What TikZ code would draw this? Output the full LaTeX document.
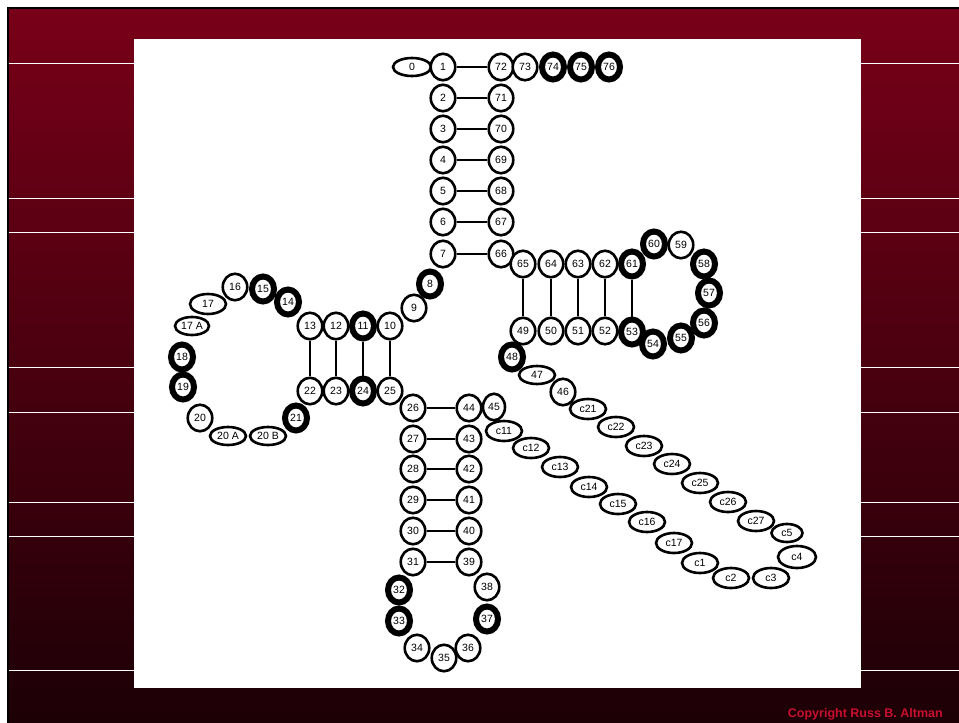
\documentclass[tikz,border=0pt]{standalone}
\usepackage{fontspec}
\setmainfont{Liberation Sans}
\usetikzlibrary{shapes.geometric}
\definecolor{bgtop}{RGB}{120,0,24}
\definecolor{bgmid}{RGB}{88,0,18}
\definecolor{bgbot}{RGB}{28,0,6}
\definecolor{copyred}{RGB}{200,16,46}
\begin{document}
\begin{tikzpicture}[x=1pt,y=-1pt,
  nd/.style={ellipse, draw=black, fill=white, line width=2.6pt, minimum width=24.5pt, minimum height=26.5pt, inner sep=0pt, font=\fontsize{10.5}{10.5}\selectfont},
  thk/.style={nd, line width=6pt, minimum width=22pt, minimum height=25pt},
  ov/.style={nd, minimum width=36pt, minimum height=20pt},
  pairline/.style={line width=2pt, black},
  stripe/.style={white, line width=1pt}]
\useasboundingbox (0,0) rectangle (959,723);
\fill[white] (0,0) rectangle (959,723);
\fill[black] (7,7) rectangle (959,723);
\shade[top color=bgtop, middle color=bgmid, bottom color=bgbot] (9.3,9.3) rectangle (959,723);
\foreach \yy in {63,198,232,367,412,502,536,670} \draw[stripe] (9.3,\yy) -- (959,\yy);
\fill[white] (134,39) rectangle (860.5,688);
\node[anchor=base east, text=copyred, font=\bfseries\fontsize{12.5}{12.5}\selectfont, inner sep=0pt] (copy) at (943,717) {Copyright Russ B. Altman};
% acceptor stem
\node[ov, minimum width=38pt, minimum height=18pt] (n0) at (412,67) {0};
\node[nd] (n1) at (443,67) {1};
\node[nd] (n2) at (443,98) {2};
\node[nd] (n3) at (443,129) {3};
\node[nd] (n4) at (443,160) {4};
\node[nd] (n5) at (443,191) {5};
\node[nd] (n6) at (443,222) {6};
\node[nd] (n7) at (443,254) {7};
\node[nd] (n72) at (501,67) {72};
\node[nd] (n73) at (525,67) {73};
\node[thk] (n74) at (553,67) {74};
\node[thk] (n75) at (581,67) {75};
\node[thk] (n76) at (609,67) {76};
\node[nd] (n71) at (501,98) {71};
\node[nd] (n70) at (501,129) {70};
\node[nd] (n69) at (501,160) {69};
\node[nd] (n68) at (501,191) {68};
\node[nd] (n67) at (501,222) {67};
\node[nd] (n66) at (501,254) {66};
% D arm
\node[thk] (n8) at (430,284) {8};
\node[nd] (n9) at (414,308) {9};
\node[nd] (n10) at (390,326) {10};
\node[thk] (n11) at (363,326) {11};
\node[nd] (n12) at (336,326) {12};
\node[nd] (n13) at (310,326) {13};
\node[thk] (n14) at (288,302) {14};
\node[thk] (n15) at (263,289) {15};
\node[nd] (n16) at (235,287) {16};
\node[ov, minimum height=20pt] (n17) at (208,304) {17};
\node[ov, minimum width=34pt, minimum height=18pt] (n17A) at (192,326) {17 A};
\node[thk] (n18) at (182,357) {18};
\node[thk] (n19) at (183,387) {19};
\node[nd] (n20) at (200,418) {20};
\node[ov, minimum height=18pt] (n20A) at (228,436) {20 A};
\node[ov, minimum height=18pt] (n20B) at (268,436) {20 B};
\node[thk] (n21) at (296,418) {21};
\node[nd] (n22) at (310,391) {22};
\node[nd] (n23) at (336,391) {23};
\node[thk] (n24) at (363,391) {24};
\node[nd] (n25) at (390,391) {25};
% anticodon arm
\node[nd] (n26) at (413,408) {26};
\node[nd] (n27) at (413,439) {27};
\node[nd] (n28) at (413,469) {28};
\node[nd] (n29) at (413,500) {29};
\node[nd] (n30) at (413,531) {30};
\node[nd] (n31) at (413,562) {31};
\node[thk] (n32) at (399,590) {32};
\node[thk] (n33) at (399,621) {33};
\node[nd] (n34) at (417,648) {34};
\node[nd] (n35) at (444,658) {35};
\node[nd] (n36) at (468,648) {36};
\node[thk] (n37) at (487,619) {37};
\node[nd] (n38) at (487,587) {38};
\node[nd] (n39) at (469,562) {39};
\node[nd] (n40) at (469,531) {40};
\node[nd] (n41) at (469,500) {41};
\node[nd] (n42) at (469,469) {42};
\node[nd] (n43) at (469,439) {43};
\node[nd] (n44) at (469,408) {44};
\node[nd, minimum width=22pt] (n45) at (494,407) {45};
% variable loop
\node[ov] (c11) at (504,431) {c11};
\node[ov] (c12) at (531,448) {c12};
\node[ov] (c13) at (560,467) {c13};
\node[ov] (c14) at (589,487) {c14};
\node[ov] (c15) at (618,504) {c15};
\node[ov] (c16) at (647,522) {c16};
\node[ov] (c17) at (674,543) {c17};
\node[ov] (c1) at (700,563) {c1};
\node[ov] (c2) at (731,578) {c2};
\node[ov] (c3) at (771,578) {c3};
\node[ov, minimum width=38pt, minimum height=22pt] (c4) at (797,557) {c4};
\node[ov, minimum width=31pt, minimum height=18pt] (c5) at (787,533) {c5};
\node[ov] (c27) at (756,521) {c27};
\node[ov] (c26) at (728,502) {c26};
\node[ov] (c25) at (700,483) {c25};
\node[ov] (c24) at (672,464) {c24};
\node[ov] (c23) at (644,446) {c23};
\node[ov] (c22) at (616,427) {c22};
\node[ov] (c21) at (588,409) {c21};
\node[nd] (n46) at (563,392) {46};
\node[ov, minimum height=18pt] (n47) at (537,375) {47};
\node[thk] (n48) at (512,357) {48};
% T arm
\node[nd] (n49) at (523,331) {49};
\node[nd] (n50) at (551,331) {50};
\node[nd] (n51) at (578,331) {51};
\node[nd] (n52) at (605,331) {52};
\node[thk] (n53) at (632,332) {53};
\node[thk] (n54) at (653,344) {54};
\node[thk] (n55) at (681,338) {55};
\node[thk] (n56) at (704,323) {56};
\node[thk] (n57) at (709,293) {57};
\node[thk] (n58) at (704,264) {58};
\node[nd] (n59) at (681,245) {59};
\node[thk] (n60) at (654,244) {60};
\node[thk] (n61) at (632,264) {61};
\node[nd] (n62) at (605,264) {62};
\node[nd] (n63) at (578,264) {63};
\node[nd] (n64) at (551,264) {64};
\node[nd] (n65) at (523,264) {65};
% base pairs
\foreach \a/\b in {n1/n72,n2/n71,n3/n70,n4/n69,n5/n68,n6/n67,n7/n66,
  n13/n22,n12/n23,n11/n24,n10/n25,
  n26/n44,n27/n43,n28/n42,n29/n41,n30/n40,n31/n39,
  n65/n49,n64/n50,n63/n51,n62/n52,n61/n53}
  \draw[pairline] (\a) -- (\b);
\end{tikzpicture}
\end{document}
